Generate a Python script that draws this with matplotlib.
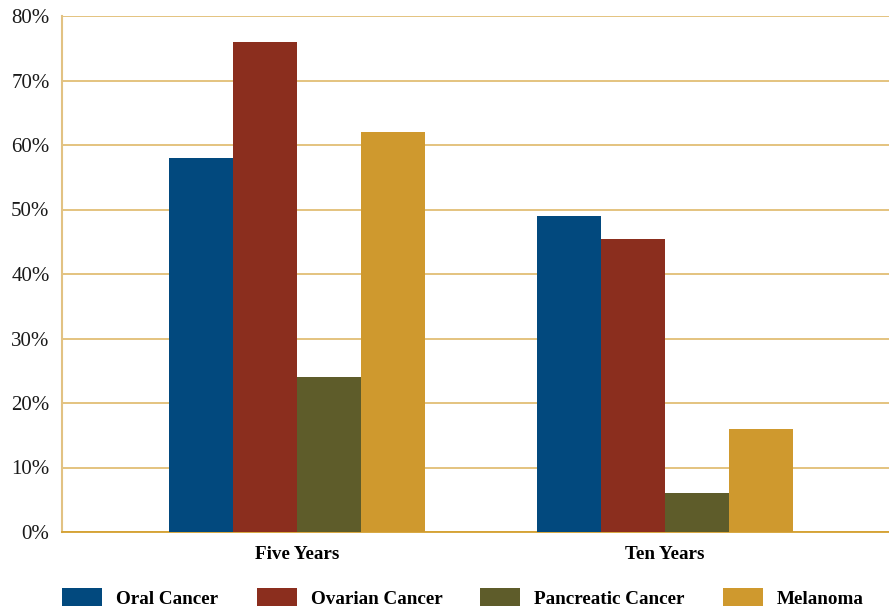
import matplotlib
matplotlib.use("Agg")
import matplotlib.pyplot as plt
from matplotlib.patches import Patch
import numpy as np

# Survival rates by period
periods = ["Five Years", "Ten Years"]
series_names = ["Oral Cancer", "Ovarian Cancer", "Pancreatic Cancer", "Melanoma"]
oral = [58, 49]
ovarian = [76, 45.5]
pancreatic = [24, 6]
melanoma = [62, 16]
y_ticks = [0, 10, 20, 30, 40, 50, 60, 70, 80]

colors = ["#02497e", "#8b2e1e", "#5e5c2a", "#cf992e"]
values = [oral, ovarian, pancreatic, melanoma]

plt.rcParams["font.family"] = ["Liberation Serif", "DejaVu Serif"]

W, H = 889, 608
fig = plt.figure(figsize=(W / 100, H / 100), dpi=100)
ax = fig.add_axes([62 / W, 1 - 532 / H, 1 - 62 / W, (532 - 16) / H])

x = np.arange(len(periods))
width = 0.174
for i, (name, vals, c) in enumerate(zip(series_names, values, colors)):
    offset = (i - 1.5) * width
    ax.bar(x + offset, vals, width, color=c, label=name, zorder=3, linewidth=0)

ax.set_xlim(-0.6386, 1.6087)
ax.set_ylim(0, 80)
ax.set_yticks(y_ticks)
ax.set_yticklabels([f"{v}%" for v in y_ticks], fontsize=15, color="#1a1a1a")
ax.set_xticks(x)
ax.set_xticklabels(periods, fontsize=13.8, fontweight="bold")

ax.yaxis.grid(True, color="#ddb35c", linewidth=1.1, zorder=0)
ax.set_axisbelow(True)
for s in ["top", "right"]:
    ax.spines[s].set_visible(False)
ax.spines["left"].set_color("#e2c283")
ax.spines["left"].set_linewidth(1.5)
ax.spines["bottom"].set_color("#d4a030")
ax.spines["bottom"].set_linewidth(1.3)
ax.tick_params(axis="both", length=0)
ax.tick_params(axis="y", pad=9)
ax.tick_params(axis="x", pad=10)

handles = [Patch(facecolor=c, edgecolor="none") for c in colors]
fs = 13.8
px = fs * 100 / 72
fig.legend(handles, series_names, loc="lower left",
           bbox_to_anchor=(62 / W - 0.0, 0.0), ncol=4, frameon=False,
           prop={"size": fs, "weight": "bold"},
           handlelength=40 / px, handleheight=20 / px,
           handletextpad=14 / px, columnspacing=38 / px,
           borderaxespad=0, borderpad=0.02)

fig.savefig("out.png", dpi=100)
